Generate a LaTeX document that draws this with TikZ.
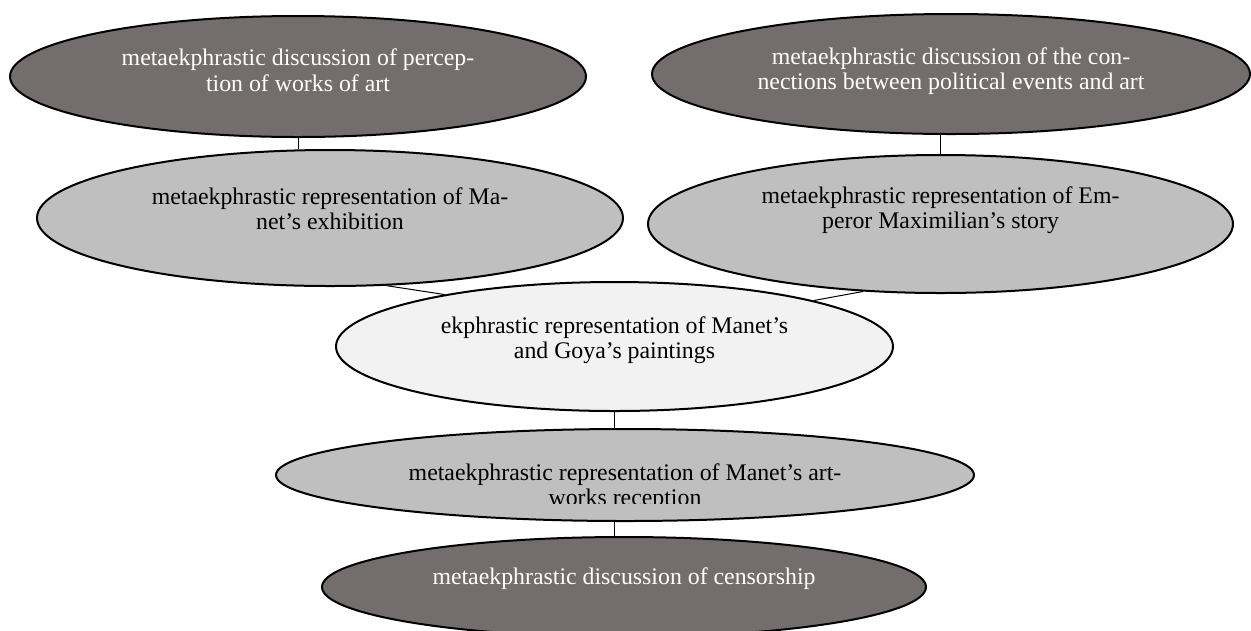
\documentclass[tikz,border=0pt]{standalone}
\usepackage{fontspec}
\setmainfont{Liberation Serif}
\usetikzlibrary{shapes,positioning}

\definecolor{darkfill}{RGB}{115,110,109}
\definecolor{midfill}{RGB}{191,191,191}
\definecolor{lightfill}{RGB}{242,242,242}

\begin{document}
\begin{tikzpicture}[x=0.5500pt,y=-0.5500pt]
	\tikzstyle{every node}=[font=\fontsize{13.1}{13.8}\selectfont]
	\tikzstyle{oval}=[ellipse,draw=black,line width=1.1pt,inner sep=0pt]
	\tikzstyle{dark oval}=[oval,fill=darkfill]
	\tikzstyle{mid oval}=[oval,fill=midfill]
	\tikzstyle{light oval}=[oval,fill=lightfill]
	\tikzstyle{caption}=[align=center,inner sep=0pt,text=black]
	\tikzstyle{link}=[line width=0.55pt]
	
	\useasboundingbox (0.0000,0.0000) rectangle (1251.0000,630.0000);
	
	%% ovals
	\node [dark oval,minimum width=316.80pt,minimum height=66.55pt]  (discPerception) at (298.0000,76.5000) {};
	\node [dark oval,minimum width=328.90pt,minimum height=66.00pt]  (discPolitics) at (951.0000,74.0000) {};
	\node [mid oval,minimum width=322.30pt,minimum height=74.80pt]  (reprExhibition) at (330.0000,218.0000) {};
	\node [mid oval,minimum width=321.75pt,minimum height=75.90pt]  (reprStory) at (940.5000,224.0000) {};
	\node [light oval,minimum width=306.35pt,minimum height=70.95pt]  (ekphPaintings) at (614.5000,346.5000) {};
	\node [mid oval,minimum width=383.90pt,minimum height=50.60pt]  (reprReception) at (625.0000,475.0000) {};
	\node [dark oval,minimum width=332.20pt,minimum height=55.00pt]  (discCensorship) at (624.0000,587.0000) {};
	
	%% texts
	\node [caption,text=white,below=18.6pt of discPerception.north]  (discPerceptionText) {metaekphrastic discussion of percep-\\tion of works of art};
	\node [caption,text=white,below=19.0pt of discPolitics.north]  (discPoliticsText) {metaekphrastic discussion of the con-\\nections between political events and art};
	\node [caption,below=21.0pt of reprExhibition.north]  (reprExhibitionText) {metaekphrastic representation of Ma-\\net’s exhibition};
	\node [caption,below=17.6pt of reprStory.north]  (reprStoryText) {metaekphrastic representation of Em-\\peror Maximilian’s story};
	\node [caption,below=19.2pt of ekphPaintings.north]  (ekphPaintingsText) {ekphrastic representation of Manet’s\\and Goya’s paintings};
	\begin{scope}
		\clip (0.0000,429.0000) rectangle (1251.0000,503.0000);
		\node [caption,below=19.4pt of reprReception.north]  (reprReceptionText) {metaekphrastic representation of Manet’s art-\\works reception};
	\end{scope}
	\node [caption,text=white,below=17.4pt of discCensorship.north]  (discCensorshipText) {metaekphrastic discussion of censorship};
	
	%% links
	\draw [link]  (discPerception.south) -- (discPerception.south |- reprExhibition.north);
	\draw [link]  (reprStory.north) -- (reprStory.north |- discPolitics.south);
	\draw [link]  (reprExhibition.-50.4) -- (ekphPaintings.163.8);
	\draw [link]  (reprStory.221.3) -- (ekphPaintings.13.1);
	\draw [link]  (ekphPaintings.south) -- (ekphPaintings.south |- reprReception.north);
	\draw [link]  (ekphPaintings.south |- reprReception.south) -- (ekphPaintings.south |- discCensorship.north);

\end{tikzpicture}
\end{document}
